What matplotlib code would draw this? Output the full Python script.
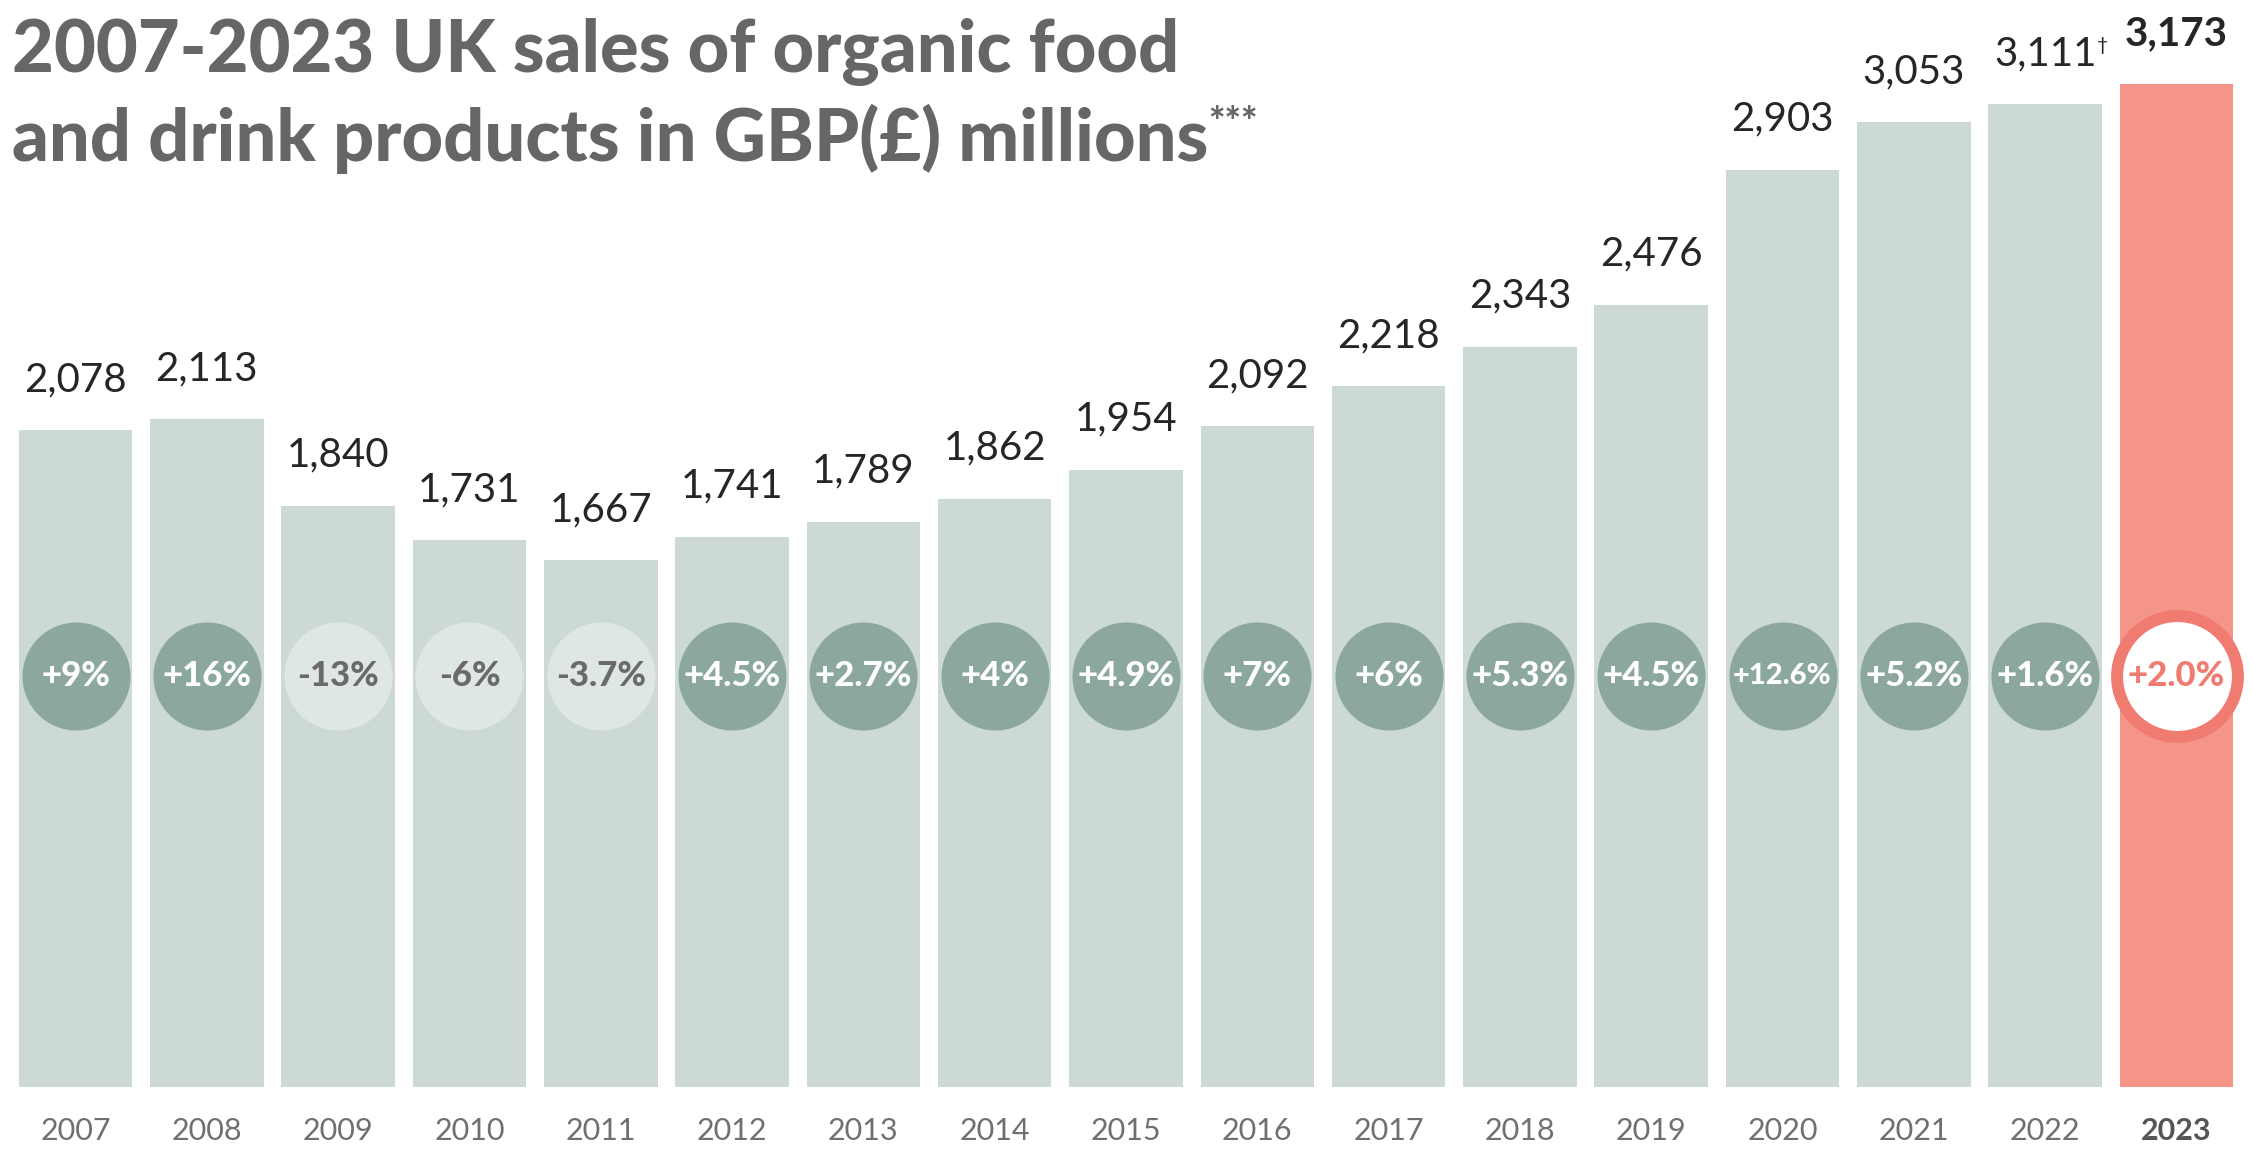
import matplotlib.pyplot as plt

years = [str(y) for y in range(2007, 2024)]
sales = [2078, 2113, 1840, 1731, 1667, 1741, 1789, 1862, 1954,
         2092, 2218, 2343, 2476, 2903, 3053, 3111, 3173]
growth = ['+9%', '+16%', '-13%', '-6%', '-3.7%', '+4.5%', '+2.7%', '+4%', '+4.9%',
          '+7%', '+6%', '+5.3%', '+4.5%', '+12.6%', '+5.2%', '+1.6%', '+2.0%']

BAR = '#cdd9d5'
DARK = '#8ca89c'
LIGHT = '#dfe7e3'
RED_BAR = '#f5958a'
RED = '#f07b70'

plt.rcParams['font.family'] = ['Lato', 'DejaVu Sans']

fig = plt.figure(figsize=(22.54, 11.53), dpi=100)
ax = fig.add_axes([0, 0.0572, 1, 0.9428])
ax.set_xlim(-0.575, 16.59)
ax.set_ylim(0, 3440)
ax.axis('off')

x = list(range(len(years)))
colors = [BAR] * (len(years) - 1) + [RED_BAR]
ax.bar(x, sales, width=0.865, color=colors, zorder=1)

circle_y = 1300
for i, (v, g) in enumerate(zip(sales, growth)):
    last = i == len(years) - 1
    neg = g.startswith('-')
    # value label
    lab = ax.annotate(f'{v:,}', (i, v), xytext=(0, 23), textcoords='offset points',
                      ha='center', va='bottom', fontsize=29, color='#262626',
                      fontweight='bold' if last else 'normal')
    if years[i] == '2022':
        ax.annotate('\u2020', (1.0, 0.95), xycoords=lab, ha='left', va='top',
                    fontsize=14, color='#262626')
    # growth circle
    if last:
        ax.scatter(i, circle_y, s=7570, facecolor='white', edgecolor=RED,
                   linewidth=8.6, zorder=3)
        tc = RED
    else:
        ax.scatter(i, circle_y, s=6050, color=LIGHT if neg else DARK,
                   linewidth=0, zorder=3)
        tc = '#6a6a6a' if neg else 'white'
    fs = 21 if len(g) > 5 else 25
    ax.text(i, circle_y, g, ha='center', va='center', fontsize=fs,
            fontweight='black', color=tc, zorder=4)
    # year label
    ax.text(i, -140, years[i], ha='center', va='center', fontsize=22,
            color='#555555' if last else '#707070',
            fontweight='bold' if last else 'normal', clip_on=False)

t1 = fig.text(12 / 2254, 1 - 72 / 1153, '2007-2023 UK sales of organic food',
              fontsize=52, fontweight='black', color='#666666', va='baseline')
t2 = fig.text(12 / 2254, 1 - 161 / 1153, 'and drink products in GBP(\u00a3) millions',
              fontsize=52, fontweight='black', color='#666666', va='baseline')
ax.annotate('***', (1.0, 0.97), xycoords=t2, ha='left', va='top',
            fontsize=28, fontweight='black', color='#666666')

fig.savefig('out.png', dpi=100)
